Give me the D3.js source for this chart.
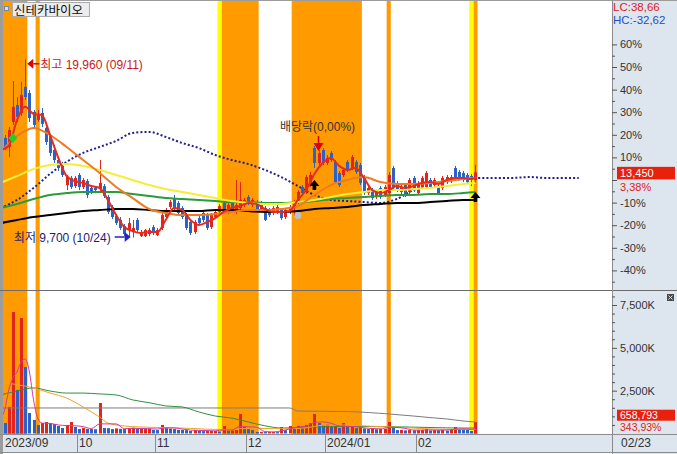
<!DOCTYPE html>
<html><head><meta charset="utf-8">
<script src="https://cdn.jsdelivr.net/npm/d3@7"></script>
<style>body{margin:0;background:#fff}svg{display:block}</style>
</head><body><svg id="c" width="677" height="454"></svg>
<script>
const title = "신테카바이오";
const dates = [
"2023/09/01","2023/09/04","2023/09/05","2023/09/06","2023/09/07","2023/09/08","2023/09/11","2023/09/12","2023/09/13","2023/09/14",
"2023/09/15","2023/09/18","2023/09/19","2023/09/20","2023/09/21","2023/09/22","2023/09/25","2023/09/26","2023/09/27","2023/10/04",
"2023/10/05","2023/10/06","2023/10/10","2023/10/11","2023/10/12","2023/10/13","2023/10/16","2023/10/17","2023/10/18","2023/10/19",
"2023/10/20","2023/10/23","2023/10/24","2023/10/25","2023/10/26","2023/10/27","2023/10/30","2023/10/31","2023/11/01","2023/11/02",
"2023/11/03","2023/11/06","2023/11/07","2023/11/08","2023/11/09","2023/11/10","2023/11/13","2023/11/14","2023/11/15","2023/11/16",
"2023/11/17","2023/11/20","2023/11/21","2023/11/22","2023/11/23","2023/11/24","2023/11/27","2023/11/28","2023/11/29","2023/11/30",
"2023/12/01","2023/12/04","2023/12/05","2023/12/06","2023/12/07","2023/12/08","2023/12/11","2023/12/12","2023/12/13","2023/12/14",
"2023/12/15","2023/12/18","2023/12/19","2023/12/20","2023/12/21","2023/12/22","2023/12/26","2023/12/27","2023/12/28","2024/01/02",
"2024/01/03","2024/01/04","2024/01/05","2024/01/08","2024/01/09","2024/01/10","2024/01/11","2024/01/12","2024/01/15","2024/01/16",
"2024/01/17","2024/01/18","2024/01/19","2024/01/22","2024/01/23","2024/01/24","2024/01/25","2024/01/26","2024/01/29","2024/01/30",
"2024/01/31","2024/02/01","2024/02/02","2024/02/05","2024/02/06","2024/02/07","2024/02/08","2024/02/13","2024/02/14","2024/02/15",
"2024/02/16","2024/02/19","2024/02/20","2024/02/21","2024/02/22","2024/02/23"];
const open = [
14740,15430,14910,16350,17330,16870,18370,18020,16930,16470,
16870,16010,15540,14740,14160,13820,12720,13130,12660,13300,
12610,12950,12550,12550,12490,12660,12030,11460,10940,10710,
10360,10130,10010,10710,9780,9780,9900,10300,9840,10250,
10880,11460,11970,11690,11400,10990,10590,10010,10820,11110,
10990,10300,10880,11170,11690,11170,11690,11170,11400,11570,
12030,11570,11740,11280,11400,11280,11110,11170,11280,10880,
11170,11400,11740,12610,12320,12720,14850,13990,14740,13990,
14570,14050,13410,13300,14050,13700,14050,13870,13180,12260,
12430,12030,12550,12150,12260,13700,12840,12320,12720,12320,
13130,12260,12610,12610,13010,12720,12610,12550,12890,12950,
13700,13470,13410,13300,13240,13010];
const high = [
15030,15600,16060,18710,17790,18660,19960,18190,17040,17040,
17160,16060,15660,15030,14280,14050,13300,13240,13240,13410,
13130,13070,12660,12660,14160,12780,12150,11570,11050,10880,
10480,10820,10710,10820,10130,10190,10250,10420,10250,11110,
11400,11860,12150,11800,11510,11110,10710,10710,10940,11220,
11110,11110,11280,11630,11860,11690,11800,13010,12890,11970,
12150,11970,11860,11800,11510,11400,11510,11570,11400,11400,
11570,11860,12430,12720,13300,13470,14970,14740,14850,14450,
14680,14160,13530,13700,14160,14450,14160,13990,13300,12660,
12550,12430,12660,12720,13470,13820,12950,12720,12840,13130,
13240,12950,13240,13530,13130,13130,12720,13240,13300,13300,
13820,13590,13530,13410,13360,13870];
const low = [
14620,14740,14330,16180,16350,16700,17620,16350,16010,16350,
16060,15030,14390,13990,13530,13180,12430,12490,12550,12430,
12490,11970,12200,12260,12380,11970,11050,10760,10420,10130,
9780,9730,9700,10010,9730,9730,9780,9840,9780,10130,
10760,11340,11280,10990,10760,10130,9840,9900,10420,10590,
10130,10190,10760,11050,11050,11050,11110,11050,11280,11460,
11570,11460,11170,11170,10650,10880,10990,11050,10710,10760,
11050,10940,11630,12150,12200,12610,13700,13870,13870,13870,
14050,12780,12610,13180,13470,13590,13360,12720,12150,12150,
11860,11920,11920,12030,12150,12490,12320,12200,12030,12200,
12320,12150,12490,12490,12490,12610,12150,12430,12780,12840,
13070,13010,12890,12780,12660,12840];
const close = [
14850,14850,15890,17220,16640,17910,17790,16580,16180,16810,
16240,15200,14570,14160,13700,13300,13180,12610,13130,12610,
13010,12150,12320,12430,12840,12090,11170,10880,10530,10250,
9900,10530,10250,10130,10010,10130,10130,9960,10130,10990,
11280,11740,11400,11110,10880,10250,9960,10590,10530,10710,
10250,10990,11170,11510,11170,11570,11170,11570,11860,11860,
11690,11860,11280,11690,10710,10990,11400,11460,10820,11280,
11460,11740,12320,12260,13180,13300,13990,14570,13990,14280,
14160,12890,12720,13590,13590,14330,13470,12840,12260,12550,
11970,12320,12030,12610,13300,12610,12430,12610,12150,13010,
12430,12840,13130,13410,12610,13010,12260,13130,13180,13180,
13180,13130,13010,12890,13010,13450];
const volume = [
700000,610000,1550000,7090000,2540000,6740000,3880000,1200000,790000,500000,
610000,670000,600000,550000,440000,320000,500000,670000,380000,260000,
320000,270000,260000,250000,1780000,320000,310000,260000,300000,270000,
260000,320000,340000,260000,270000,280000,290000,210000,200000,500000,
320000,290000,260000,210000,205000,200000,150000,200000,150000,140000,
145000,150000,155000,120000,440000,160000,175000,200000,1140000,380000,
260000,200000,90000,95000,85000,90000,95000,80000,380000,200000,
440000,380000,440000,410000,500000,610000,1140000,610000,500000,520000,
380000,400000,320000,610000,380000,400000,320000,360000,300000,260000,
300000,250000,270000,280000,670000,320000,200000,210000,180000,200000,
190000,200000,210000,260000,180000,200000,190000,210000,170000,260000,
380000,260000,250000,210000,148400,658793];

// price moving averages: [day index, value]
const ma5 = [[0,14740],[2,14970],[4,16470],[6,17220],[8,16810],[10,16750],[12,15600],[14,14280],[16,13240],[18,12950],[20,12840],[22,12660],[24,12550],[26,11860],[28,10990],[30,10300],[32,10070],[34,9960],[36,10010],[38,10010],[40,10710],[42,11400],[44,11280],[46,10710],[48,10420],[50,10590],[52,10820],[54,11170],[56,11400],[58,11510],[60,11690],[62,11630],[64,11340],[66,11170],[68,11170],[70,11220],[72,11860],[74,12430],[76,13360],[78,13990],[80,14280],[82,13820],[84,13590],[86,13700],[88,13130],[90,12430],[92,12260],[94,12430],[96,12660],[98,12550],[100,12660],[102,12840],[104,12890],[106,12780],[108,13010],[110,13130],[112,13130],[114,13070],[115,13130]];
const ma20 = [[0,14620],[4,15540],[8,16010],[12,15600],[16,14910],[20,14160],[24,13410],[28,12610],[32,11970],[36,11340],[40,11110],[44,10990],[48,10990],[52,11050],[56,11170],[60,11280],[64,11280],[68,11340],[72,11510],[76,12150],[80,12720],[84,13010],[88,13180],[92,12890],[96,12780],[100,12780],[104,12840],[108,12950],[112,13070],[115,13130]];
const ma60 = [[0,12840],[4,13240],[8,13640],[12,13870],[16,13930],[20,13820],[24,13590],[28,13300],[32,13010],[36,12720],[40,12490],[44,12320],[48,12150],[52,11970],[56,11800],[60,11690],[64,11630],[68,11630],[72,11740],[76,11860],[80,12030],[84,12200],[88,12320],[92,12430],[96,12430],[100,12490],[104,12550],[108,12660],[112,12780],[115,12840]];
const ma90 = [[0,11400],[4,11630],[8,11920],[12,12150],[16,12260],[20,12320],[24,12320],[28,12320],[32,12200],[36,12090],[40,11970],[44,11920],[48,11860],[52,11800],[56,11740],[60,11740],[64,11690],[68,11690],[72,11740],[76,11800],[80,11920],[84,11970],[88,12030],[92,12090],[96,12150],[100,12150],[104,12200],[108,12200],[112,12260],[115,12320]];
const ma120 = [[0,10530],[4,10710],[8,10880],[12,10990],[16,11110],[20,11220],[24,11280],[28,11340],[32,11340],[36,11280],[40,11220],[44,11220],[48,11220],[52,11280],[56,11280],[60,11220],[64,11170],[68,11170],[72,11220],[76,11340],[80,11400],[84,11460],[88,11570],[92,11630],[96,11690],[100,11690],[104,11740],[108,11800],[112,11860],[115,11860]];
const leadSpan = [[0,11400],[4,11860],[8,12550],[12,13360],[16,14050],[20,14570],[24,14910],[28,15260],[32,15720],[36,15780],[40,15490],[44,15140],[48,14850],[52,14450],[56,14160],[60,13930],[64,13590],[68,13180],[72,12660],[76,12150],[80,11860],[84,11800],[88,11740],[92,11690],[96,11920],[100,12430],[104,12720],[108,12950],[112,13070],[116,13130],[120,13130],[124,13130],[128,13180],[132,13130],[136,13130],[140,13130]];
// volume moving averages
const volMa5 = [[0,905000],[1,1370000],[2,2540000],[3,3240000],[4,3590000],[5,4170000],[6,4350000],[7,3590000],[8,1960000],[9,905000],[10,610000],[12,590000],[14,500000],[16,460000],[18,450000],[20,400000],[22,290000],[24,560000],[26,560000],[28,560000],[30,280000],[32,300000],[34,290000],[36,280000],[38,260000],[40,330000],[42,330000],[44,260000],[46,200000],[48,180000],[50,170000],[52,150000],[54,210000],[56,210000],[58,400000],[60,390000],[62,370000],[64,110000],[66,90000],[68,150000],[70,270000],[72,370000],[74,430000],[76,640000],[78,680000],[80,600000],[82,440000],[84,420000],[86,400000],[88,330000],[90,290000],[92,270000],[94,360000],[96,350000],[98,300000],[100,200000],[102,200000],[104,210000],[106,200000],[108,200000],[110,250000],[112,270000],[114,250000],[115,305000]];
const volMa20 = [[0,3010000],[4,2850000],[8,2660000],[12,2360000],[16,2070000],[20,1550000],[24,960000],[26,610000],[30,440000],[34,380000],[38,350000],[42,330000],[46,300000],[50,250000],[54,230000],[58,280000],[62,300000],[66,280000],[70,280000],[74,330000],[78,480000],[82,500000],[86,470000],[90,420000],[94,390000],[98,340000],[102,290000],[106,250000],[110,240000],[114,240000],[115,260000]];
const volMa60 = [[0,2250000],[4,2480000],[8,2660000],[12,2480000],[16,2360000],[20,2360000],[24,2310000],[28,2250000],[32,1960000],[36,1800000],[40,1610000],[44,1550000],[48,1260000],[52,1020000],[56,900000],[60,670000],[64,450000],[68,320000],[72,340000],[76,380000],[80,400000],[84,410000],[88,410000],[92,400000],[96,390000],[100,370000],[104,350000],[108,330000],[112,320000],[115,320000]];
const volMa120 = [[0,1490000],[36,1490000],[70,1490000],[72,1310000],[84,1280000],[94,1140000],[100,1020000],[104,930000],[108,850000],[112,730000],[115,670000]];

const pctTicks = [60,50,40,30,20,10,-10,-20,-30,-40];
const volTicks = [2500000,5000000,7500000];
const monthLabels = ["2023/09","10","11","12","2024/01","02"];
const orangeBands = [[0,6],[9,9],[54,62],[71,87],[94,94],[115,115]];
const yellowBands = [[53,53],[114,114]];
const exDivDay = 77, exDivText = "배당락(0,00%)";
const buySignals = [[76,13010],[115,12320]];
const greenMark = [3,15430];
const grayMark = [72,10960];

// ---------- drawing ----------
const NUM = "'Liberation Sans', Arial, sans-serif";
const KR = "'Liberation Sans','Noto Sans CJK KR', sans-serif";
const RED = "#e3241b", BLUE = "#2c62c7", AXBG = "#dde5ee";
const svg = d3.select("#c");
const step = 4.13;
const x = d3.scaleLinear().domain([0, 148]).range([0.5, 0.5 + 148 * step]);
const base = close[close.length - 2];
const yP = d3.scaleLinear().domain([base, base * 1.1]).range([180, 157.4]);
const yV = d3.scaleLinear().domain([0, 7500000]).range([433.5, 305]);
const cx = i => Math.round(x(i));

const defs = svg.append("defs");
defs.append("clipPath").attr("id","cp").append("rect").attr("x",3).attr("y",1).attr("width",609).attr("height",289);
defs.append("clipPath").attr("id","cv").append("rect").attr("x",3).attr("y",291).attr("width",609).attr("height",143);
defs.append("clipPath").attr("id","cb").append("rect").attr("x",3).attr("y",1).attr("width",609).attr("height",433);

svg.append("rect").attr("width",677).attr("height",454).attr("fill","#fff");
svg.append("rect").attr("x",612).attr("y",0).attr("width",65).attr("height",454).attr("fill",AXBG);
svg.append("rect").attr("x",0).attr("y",434).attr("width",612).attr("height",19).attr("fill",AXBG);

// bands
const gb = svg.append("g").attr("clip-path","url(#cb)");
gb.selectAll("rect.o").data(orangeBands).join("rect").attr("class","o")
  .attr("x", d => x(d[0]) - step/2).attr("width", d => x(d[1]) - x(d[0]) + step)
  .attr("y", 1).attr("height", 433).attr("fill", "#ff9a00");
gb.selectAll("rect.y").data(yellowBands).join("rect").attr("class","y")
  .attr("x", d => x(d[0]) - step/2).attr("width", d => x(d[1]) - x(d[0]) + step)
  .attr("y", 1).attr("height", 433).attr("fill", "#ffff00");

// price panel
const gp = svg.append("g").attr("clip-path","url(#cp)");
const lineP = d3.line().x(d => x(d[0])).y(d => yP(d[1])).curve(d3.curveMonotoneX);
gp.append("path").attr("d", lineP(leadSpan)).attr("fill","none").attr("stroke","#1f1f8f")
  .attr("stroke-width",2).attr("stroke-dasharray","2 2.13");

const candles = gp.append("g");
d3.range(close.length).forEach(i => {
  const up = close[i] >= open[i];
  const col = up ? RED : BLUE;
  candles.append("rect").attr("x", cx(i)).attr("width",1)
    .attr("y", yP(high[i])).attr("height", Math.max(1, yP(low[i]) - yP(high[i]))).attr("fill", col);
  const t = yP(Math.max(open[i], close[i])), b = yP(Math.min(open[i], close[i]));
  candles.append("rect").attr("x", cx(i) - 1).attr("width",3)
    .attr("y", t).attr("height", Math.max(1, b - t)).attr("fill", col);
});

[[ma120,"#000"],[ma90,"#2a9a3a"],[ma60,"#f2ee3a"],[ma20,"#f07a22"],[ma5,"#e82a1e"]].forEach(([d,c]) => {
  gp.append("path").attr("d", lineP(d)).attr("fill","none").attr("stroke",c).attr("stroke-width",2);
});

// markers
gp.append("path").attr("transform",`translate(${x(greenMark[0])},${yP(greenMark[1])})`)
  .attr("d","M0,-5L4.5,0L0,5L-4.5,0Z").attr("fill","#22d022");
gp.append("circle").attr("cx", x(grayMark[0])).attr("cy", yP(grayMark[1])).attr("r",3.5).attr("fill","#b9c2cc");
buySignals.forEach(([i,p]) => {
  gp.append("path").attr("transform",`translate(${x(i)},${yP(p)})`)
    .attr("d","M0,0L5,6L1.8,6L1.8,10L-1.8,10L-1.8,6L-5,6Z").attr("fill","#000");
});

// high / low annotations
const hiI = high.indexOf(d3.max(high)), loI = low.indexOf(d3.min(low));
const md = s => s.slice(5);
const fmt = d3.format(",");
{
  const ty = yP(high[hiI]) + 4.5, tx = x(hiI) + 2;
  gp.append("path").attr("d",`M${tx},${ty}L${tx+6},${ty-5}L${tx+6},${ty+5}Z`).attr("fill","#e00000");
  gp.append("rect").attr("x",tx+6).attr("y",ty-0.75).attr("width",6).attr("height",1.5).attr("fill","#e00000");
  gp.append("text").attr("x",tx+13).attr("y",ty+5).attr("font-family",KR).attr("font-size",12)
    .attr("fill","#cc1818").text(`최고 ${fmt(high[hiI])} (${md(dates[hiI])})`);
}
{
  const ty = yP(low[loI]) - 0.5, tx = x(loI) - 2;
  gp.append("path").attr("d",`M${tx},${ty}L${tx-6},${ty-5}L${tx-6},${ty+5}Z`).attr("fill","#2424c8");
  gp.append("rect").attr("x",tx-16).attr("y",ty-0.75).attr("width",10).attr("height",1.5).attr("fill","#2424c8");
  gp.append("text").attr("x",tx-20).attr("y",ty+5.5).attr("text-anchor","end").attr("font-family",KR).attr("font-size",12)
    .attr("fill","#1c1c78").text(`최저 ${fmt(low[loI])} (${md(dates[loI])})`);
}
{
  const ex = x(exDivDay), ty = yP(high[exDivDay]) + 1;
  gp.append("rect").attr("x",ex-0.75).attr("y",ty-15).attr("width",1.5).attr("height",8).attr("fill","#e00000");
  gp.append("path").attr("d",`M${ex-5},${ty-8}L${ex+5},${ty-8}L${ex},${ty}Z`).attr("fill","#e00000");
  gp.append("text").attr("x",ex-1).attr("y",ty-20).attr("text-anchor","middle").attr("font-family",KR)
    .attr("font-size",12).attr("fill","#333").text(exDivText);
}

// volume panel
const gv = svg.append("g").attr("clip-path","url(#cv)");
gv.selectAll("rect.v").data(volume).join("rect").attr("class","v")
  .attr("x",(d,i) => cx(i) - 1).attr("width",3)
  .attr("y", d => yV(d)).attr("height", d => yV(0) - yV(d))
  .attr("fill",(d,i) => (i > 0 && d < volume[i-1]) ? BLUE : RED);
const lineV = d3.line().x(d => x(d[0])).y(d => yV(d[1])).curve(d3.curveMonotoneX);
[[volMa120,"#7c7c7c"],[volMa60,"#2e9040"],[volMa20,"#f0a22a"],[volMa5,"#d8389c"]].forEach(([d,c]) => {
  gv.append("path").attr("d", lineV(d)).attr("fill","none").attr("stroke",c).attr("stroke-width",1);
});

// frame lines
svg.append("rect").attr("x",0).attr("y",0).attr("width",3).attr("height",454).attr("fill","#9c9c9c");
svg.append("line").attr("x1",0).attr("x2",677).attr("y1",0.5).attr("y2",0.5).attr("stroke","#9c9c9c");
svg.append("line").attr("x1",0).attr("x2",677).attr("y1",290.5).attr("y2",290.5).attr("stroke","#6c6c6c");
svg.append("line").attr("x1",0).attr("x2",677).attr("y1",434.5).attr("y2",434.5).attr("stroke","#8c8c8c");
svg.append("line").attr("x1",0).attr("x2",677).attr("y1",452.5).attr("y2",452.5).attr("stroke","#8c8c8c");
svg.append("line").attr("x1",612.5).attr("x2",612.5).attr("y1",0).attr("y2",454).attr("stroke","#8c8c8c");

// price axis (percent vs previous close)
const yPct = d3.scaleLinear().domain([0,10]).range([yP(base), yP(base*1.1)]);
const pa = svg.append("g").attr("transform","translate(612,0)")
  .call(d3.axisRight(yPct).tickValues(pctTicks).tickFormat(d => d + "%").tickSize(5).tickPadding(3));
const pm = svg.append("g").attr("transform","translate(612,0)")
  .call(d3.axisRight(yPct).tickValues(d3.range(-45,65,5).filter(v => v % 10 !== 0)).tickFormat("").tickSize(3));
const pz = svg.append("g").attr("transform","translate(612,0)")
  .call(d3.axisRight(yPct).tickValues([0]).tickFormat("").tickSize(5));
// volume axis
const va = svg.append("g").attr("transform","translate(612,0)")
  .call(d3.axisRight(yV).tickValues(volTicks).tickFormat(d => fmt(d/1000) + "K").tickSize(5).tickPadding(3));
const vm = svg.append("g").attr("transform","translate(612,0)")
  .call(d3.axisRight(yV).tickValues(d3.range(500000,8000001,500000).filter(v => v % 2500000 !== 0)).tickFormat("").tickSize(3));
[pa,pm,pz,va,vm].forEach(g => {
  g.select(".domain").remove();
  g.selectAll("line").attr("stroke","#555");
  g.selectAll("text").attr("font-family",NUM).attr("font-size",11).attr("fill","#333");
});

// last price box
const last = close[close.length-1];
const pct = v => v.toFixed(2).replace(".", ",") + "%";
{
  const ly = yP(last);
  svg.append("rect").attr("x",617).attr("y",ly-5.5).attr("width",58).attr("height",12.5).attr("fill","#ea200c");
  svg.append("text").attr("x",620).attr("y",ly+5).attr("font-family",NUM).attr("font-size",11).attr("fill","#fff").text(fmt(last));
  svg.append("text").attr("x",620).attr("y",ly+18.5).attr("font-family",NUM).attr("font-size",11).attr("fill","#e02020")
    .text(pct((last/base - 1)*100));
}
{
  const lv = volume[volume.length-1], pv = volume[volume.length-2];
  const vy = yV(lv);
  svg.append("rect").attr("x",617).attr("y",vy-12.5).attr("width",58).attr("height",11).attr("fill","#ea200c");
  svg.append("text").attr("x",620).attr("y",vy-3.5).attr("font-family",NUM).attr("font-size",10.5).attr("fill","#fff").text(fmt(lv));
  svg.append("text").attr("x",620).attr("y",vy+8.5).attr("font-family",NUM).attr("font-size",10.5).attr("fill","#e02020")
    .text(pct((lv/pv - 1)*100));
}
svg.append("rect").attr("x",667).attr("y",294).attr("width",7).attr("height",7).attr("fill","#4a4a4a");
svg.append("path").attr("d","M668.5,295.5L672.5,299.5M672.5,295.5L668.5,299.5").attr("stroke","#ddd").attr("stroke-width",1);

// LC / HC
const lc = (last / d3.min(low) - 1) * 100, hc = (last / d3.max(high) - 1) * 100;
svg.append("text").attr("x",613).attr("y",10.5).attr("font-family",NUM).attr("font-size",11.5).attr("fill","#e02020")
  .text("LC:" + lc.toFixed(2).replace(".", ","));
svg.append("text").attr("x",613).attr("y",23.5).attr("font-family",NUM).attr("font-size",11.5).attr("fill","#2050c8")
  .text("HC:" + hc.toFixed(2).replace(".", ","));

// title
svg.append("rect").attr("x",4.5).attr("y",6.5).attr("width",4).attr("height",4).attr("fill","#cfe0f0").attr("stroke","#7a8a9a");
svg.append("rect").attr("x",12.5).attr("y",2.5).attr("width",77).attr("height",14).attr("fill","#ececec").attr("stroke","#aaa");
svg.append("text").attr("x",14).attr("y",14.5).attr("font-family",KR).attr("font-size",12.5).attr("fill","#111").text(title);

// date axis
const monthStarts = [];
dates.forEach((d,i) => { if (i === 0 || d.slice(0,7) !== dates[i-1].slice(0,7)) monthStarts.push(i); });
const ga = svg.append("g");
monthStarts.forEach((i,k) => {
  const sx = Math.max(3, Math.round(x(i) - step/2)) + 0.5;
  if (k > 0) ga.append("line").attr("x1",sx).attr("x2",sx).attr("y1",435).attr("y2",452).attr("stroke","#8c8c8c");
  ga.append("text").attr("x", sx + 1.5).attr("y",447).attr("font-family",NUM).attr("font-size",12).attr("fill","#333")
    .text(monthLabels[k]);
});
svg.append("text").attr("x",621).attr("y",447).attr("font-family",NUM).attr("font-size",12).attr("fill","#333")
  .text(md(dates[dates.length-1]));
</script>
</body></html>
